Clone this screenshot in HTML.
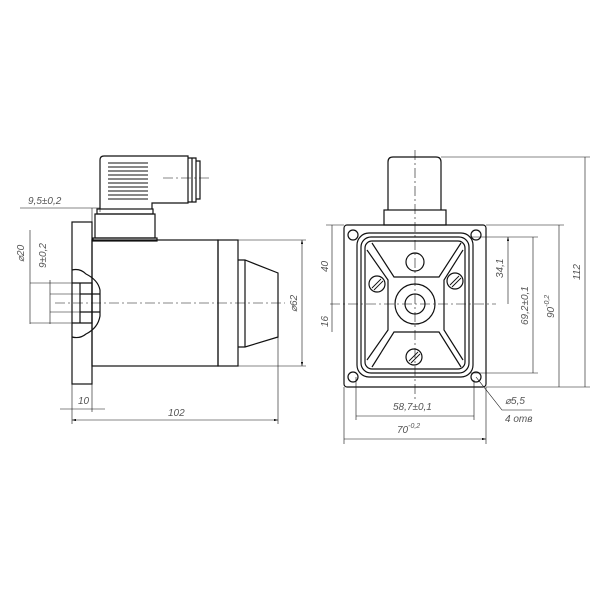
<!DOCTYPE html>
<html><head><style>body{margin:0;background:#fff}svg{display:block}text{font-family:"Liberation Sans",sans-serif;font-style:italic;fill:#555;stroke:none}</style></head><body>
<svg width="600" height="600" viewBox="0 0 600 600" xmlns="http://www.w3.org/2000/svg" stroke="#111" fill="none" stroke-width="1">
<defs><marker id="a" viewBox="0 0 10 6" refX="10" refY="3" markerWidth="7" markerHeight="4" orient="auto-start-reverse"><path d="M0 0 L10 3 L0 6" fill="#111" stroke="none"/></marker></defs>
<!-- LEFT VIEW -->
<g stroke-width="1.2">
<rect x="72" y="222" width="20" height="162"/>
<rect x="92" y="240" width="126" height="126"/>
<rect x="218" y="240" width="20" height="126"/>
<path d="M238 260 H245 L278 273 V337 L245 347 H238"/>
<line x1="245" y1="260" x2="245" y2="347"/>
<path d="M72 270 Q80 268 86 274 Q98 280 100 290 V316 Q98 328 86 334 Q80 339 72 337"/>
<path d="M72 283 H92 V323 H72 M80 294 H100 M80 312 H100 M80 283 V323"/>
<rect x="93" y="238" width="64" height="3"/>
<rect x="95" y="214" width="60" height="24"/>
<rect x="97" y="209" width="56" height="5"/>
<path d="M100 209 V160 Q100 156 104 156 H188 V203 H152 V209"/>
<path d="M188 158 H196 V202 H188 M192 158 V202 M196 161 H200 V199 H196"/>
</g>
<g stroke-width="0.9">
<path d="M108 163 H148 M108 167 H148 M108 171 H148 M108 175 H148 M108 179 H148 M108 183 H148 M108 187 H148 M108 191 H148 M108 195 H148 M108 199 H148"/>
</g>
<g stroke-width="0.6" stroke-dasharray="10,3,2,3">
<line x1="55" y1="303" x2="285" y2="303"/>
<line x1="163" y1="178" x2="212" y2="178"/>
</g>
<g stroke-width="0.6">
<path d="M20 208 H100 M92 208 V222 M100 208 V212"/>
<path d="M30 230 V324 M30 283 H72 M30 323 H72"/>
<path d="M50 280 V324 M50 294 H80 M50 312 H80"/>
<path d="M238 240 H306 M238 366 H306"/>
<path d="M302 240 V366" marker-start="url(#a)" marker-end="url(#a)"/>
<path d="M72 384 V424 M92 384 V412 M60 409 H105"/>
<path d="M278 337 V424"/>
<path d="M72 420 H278" marker-start="url(#a)" marker-end="url(#a)"/>
</g>
<text x="28" y="204" font-size="10">9,5±0,2</text>
<text x="24" y="262" font-size="10" transform="rotate(-90 24 262)">⌀20</text>
<text x="46" y="268" font-size="10" transform="rotate(-90 46 268)">9±0,2</text>
<text x="297" y="312" font-size="10" transform="rotate(-90 297 312)">⌀62</text>
<text x="78" y="404" font-size="10">10</text>
<text x="168" y="416" font-size="10">102</text>
<!-- RIGHT VIEW -->
<g stroke-width="1.2">
<rect x="344" y="225" width="142" height="162" rx="3"/>
<path d="M388 210 V162 Q388 157 393 157 H436 Q441 157 441 162 V210"/>
<rect x="384" y="210" width="62" height="15"/>
<rect x="357" y="233" width="116" height="144" rx="12"/>
<rect x="361" y="237" width="108" height="136" rx="10"/>
<rect x="365" y="241" width="100" height="128" rx="7"/>
<path d="M372 243 L394 277 H439 L461 243"/>
<path d="M372 367 L394 332 H439 L461 367"/>
<path d="M367 250 L388 280 V330 L367 360"/>
<path d="M463 250 L444 280 V330 L463 360"/>
<circle cx="415" cy="304" r="20"/><circle cx="415" cy="304" r="10"/>
<circle cx="415" cy="262" r="9"/>
<circle cx="377" cy="284" r="8"/><circle cx="455" cy="281" r="8"/><circle cx="414" cy="357" r="8"/>
<circle cx="353" cy="235" r="5"/><circle cx="476" cy="235" r="5"/><circle cx="353" cy="377" r="5"/><circle cx="476" cy="377" r="5"/>
</g>
<g stroke-width="0.9">
<path d="M372 288 L381 279 M374 290 L383 281 M450 285 L459 276 M452 287 L461 278 M409 361 L418 352 M411 363 L420 354"/>
</g>
<g stroke-width="0.6" stroke-dasharray="10,3,2,3">
<line x1="330" y1="304" x2="496" y2="304"/>
<line x1="415" y1="150" x2="415" y2="400"/>
</g>
<g stroke-width="0.6">
<path d="M332 225 V332 M326 225 H344"/>
<path d="M441 157 H590 M486 225 H564 M486 387 H590 M470 237 H538 M470 373 H538"/>
<path d="M508 237 V304 M533 237 V373 M559 225 V387 M585 157 V387 M356 416 H474 M344 439 H486" marker-start="url(#a)" marker-end="url(#a)"/>
<path d="M356 377 V420 M474 380 V420 M344 387 V444 M486 387 V444"/>
<path d="M476 377 L502 410 H532"/>
</g>
<text x="328" y="272" font-size="10" transform="rotate(-90 328 272)">40</text>
<text x="328" y="327" font-size="10" transform="rotate(-90 328 327)">16</text>
<text x="503" y="278" font-size="10" transform="rotate(-90 503 278)">34,1</text>
<text x="528" y="325" font-size="10" transform="rotate(-90 528 325)">69,2±0,1</text>
<text x="554" y="318" font-size="10" transform="rotate(-90 554 318)">90<tspan font-size="7" dy="-5">-0,2</tspan></text>
<text x="580" y="280" font-size="10" transform="rotate(-90 580 280)">112</text>
<text x="393" y="410" font-size="10">58,7±0,1</text>
<text x="397" y="433" font-size="10">70<tspan font-size="7" dy="-5">-0,2</tspan></text>
<text x="505" y="404" font-size="10">⌀5,5</text>
<text x="505" y="422" font-size="10">4 отв</text>
</svg>
</body></html>
